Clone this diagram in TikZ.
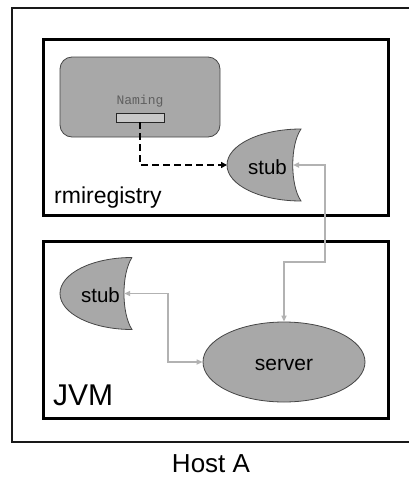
\documentclass[tikz,border=0pt]{standalone}
\usepackage{fontspec}
\setmainfont{Liberation Sans}
\newfontfamily\namingfont{Liberation Mono}
\usetikzlibrary{arrows.meta,shapes.geometric}
\definecolor{shade}{RGB}{168,168,168}
\definecolor{lightshade}{RGB}{200,200,200}
\definecolor{edgegray}{RGB}{70,70,70}
\definecolor{conngray}{RGB}{178,178,178}
\definecolor{namegray}{RGB}{95,95,95}
\tikzset{
  hostbox/.style={draw=black!90, line width=2pt},
  vmbox/.style={draw=black, line width=3pt},
  stubshape/.style={fill=shade, draw=edgegray, line width=0.8pt},
  lbl/.style={inner sep=0pt, text=black},
  gconn/.style={draw=conngray, line width=1.8pt, {Triangle[length=6pt,width=5pt]}-{Triangle[length=6pt,width=5pt]}},
  dconn/.style={draw=black, line width=2pt, dash pattern=on 7pt off 4pt, -{Triangle[length=6pt,width=6pt]}}
}
\begin{document}
\begin{tikzpicture}[x=1pt,y=-1pt]
\clip (0,0) rectangle (409,477);
\fill[white] (0,0) rectangle (409,477);
% boxes
\draw[hostbox] (12,8) rectangle (440,442);
\draw[vmbox] (43,39) rectangle (388,215);
\draw[vmbox] (43,241) rectangle (388,418);
% labels
\node[lbl, anchor=base west, font=\fontsize{23}{23}\selectfont] (rmilbl) at (54,203) {rmiregistry};
\node[lbl, anchor=base west, font=\fontsize{30}{30}\selectfont] (jvmlbl) at (53,405) {JVM};
\node[lbl, anchor=base, font=\fontsize{26}{26}\selectfont] (hostlbl) at (211,472) {Host A};
% registry process
\node[draw=edgegray, fill=shade, line width=0.8pt, rounded corners=12pt, minimum width=160pt, minimum height=80pt, inner sep=0pt] (registry) at (140,97) {};
\node[lbl, anchor=base, text=namegray, font=\namingfont\fontsize{13}{13}\selectfont] (naminglbl) at (140,104) {Naming};
\node[draw=black!85, fill=lightshade, line width=0.8pt, minimum width=48pt, minimum height=9pt, inner sep=0pt] (namingbox) at (140,117.5) {};
% upper stub
\begin{scope}[shift={(227,165)}]
  \draw[stubshape] (74,-36) .. controls (33,-36) and (0,-20) .. (0,0) .. controls (0,20) and (33,36) .. (74,36) .. controls (63,20) and (63,-20) .. cycle;
  \coordinate (upleft) at (0,0);
  \coordinate (upnotch) at (66,0);
\end{scope}
\node[lbl, anchor=base, font=\fontsize{20.5}{20.5}\selectfont] (upstub) at (267.5,174) {stub};
% lower stub
\begin{scope}[shift={(60,293.5)}, xscale=0.973]
  \draw[stubshape] (74,-36) .. controls (33,-36) and (0,-20) .. (0,0) .. controls (0,20) and (33,36) .. (74,36) .. controls (63,20) and (63,-20) .. cycle;
  \coordinate (lownotch) at (66,0);
\end{scope}
\node[lbl, anchor=base, font=\fontsize{20.5}{20.5}\selectfont] (lowstub) at (100.5,302) {stub};
% server
\node[ellipse, draw=edgegray, fill=shade, line width=0.8pt, minimum width=162pt, minimum height=80pt, inner sep=0pt] (server) at (284,362) {};
\node[lbl, anchor=base, font=\fontsize{21}{21}\selectfont] (serverlbl) at (284,370) {server};
% connectors
\draw[dconn] (namingbox.south) |- (upleft);
\draw[gconn] (upnotch) -- ++(32,0) |- ([yshift=60pt]server.north) -- (server.north);
\draw[gconn] (lownotch) -- ++(44,0) |- (server.west);
\end{tikzpicture}
\end{document}
